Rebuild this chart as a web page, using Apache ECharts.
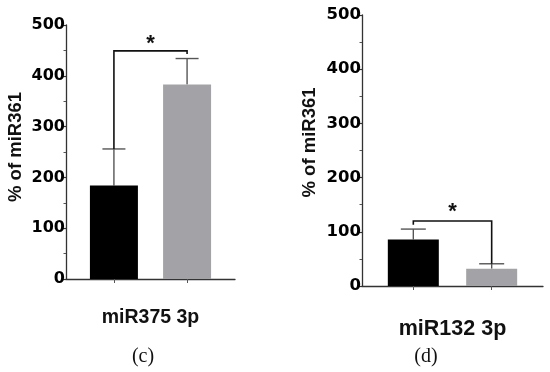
<!DOCTYPE html>
<html>
<head>
<meta charset="utf-8">
<script src="https://cdn.jsdelivr.net/npm/echarts@6/dist/echarts.min.js"></script>
<style>html,body{margin:0;padding:0;background:#fff;}#chart{width:550px;height:372px;}</style>
</head>
<body>
<div id="chart"></div>
<script>
// ---- data ----
const groups = ['Group 1', 'Group 2'];
const groupColors = ['#000000', '#a3a3a7'];
const yTicks = [0, 100, 200, 300, 400, 500];

// panel (c): miR375 3p
const cName = 'miR375 3p';
const cMeans = [184, 383];
const cErrUpper = [256, 434];
const cBracketY = 449;
const cBracketLegEnds = [256, 443];
const cStarY = 463;

// panel (d): miR132 3p
const dName = 'miR132 3p';
const dMeans = [86, 32];
const dErrUpper = [105, 41];
const dBracketY = 120;
const dBracketLegEnds = [113, 41];
const dStarY = 136;

const yName = '% of miR361';
const panelLabels = ['(c)', '(d)'];

// ---- chart ----
const FONT = 'Liberation Sans, Arial, sans-serif';
const TICKFONT = 'DejaVu Sans, Liberation Sans, sans-serif';
const chart = echarts.init(document.getElementById('chart'), null, {renderer: 'canvas'});

const pos = groups.map((g, i) => i + 1);
const xMin = 0.345, xMax = 2.655;

function makeXAxis(gridIndex, name, fontSize, gap) {
  return {
    type: 'value', gridIndex: gridIndex, min: xMin, max: xMax,
    name: name, nameLocation: 'middle', nameGap: gap,
    nameTextStyle: {fontFamily: FONT, fontWeight: 'bold', fontSize: fontSize, color: '#111', verticalAlign: 'top'},
    axisLine: {show: true, lineStyle: {color: '#333', width: 1.3}},
    axisTick: {show: true, customValues: pos, length: 4, lineStyle: {color: '#555', width: 1}},
    axisLabel: {show: false},
    splitLine: {show: false}
  };
}
function makeYAxis(gridIndex, fontSize, gap, shift) {
  return {
    type: 'value', gridIndex: gridIndex, min: 0, max: 500, interval: 100,
    name: yName, nameLocation: 'middle', nameGap: gap,
    nameTextStyle: {fontFamily: FONT, fontWeight: 'bold', fontSize: 18.5, color: '#111', padding: [0, 0, 0, shift]},
    axisLine: {show: true, lineStyle: {color: '#333', width: 1.3}},
    axisTick: {show: true, length: 4, lineStyle: {color: '#333', width: 1.2}},
    minorTick: {show: true, splitNumber: 2, length: 2.5, lineStyle: {color: '#555', width: 1}},
    axisLabel: {fontFamily: TICKFONT, fontWeight: 'bold', fontSize: fontSize, color: '#000', margin: 1,
      customValues: yTicks},
    splitLine: {show: false}
  };
}

function barSeries(idx, means, bw) {
  return {
    type: 'bar', xAxisIndex: idx, yAxisIndex: idx, barWidth: bw, z: 3,
    data: means.map((v, i) => ({value: [pos[i], v], itemStyle: {color: groupColors[i]}})),
    animation: false
  };
}
function errSeries(idx, means, upper, capW) {
  return {
    type: 'custom', xAxisIndex: idx, yAxisIndex: idx, z: 2,
    data: means.map((v, i) => [pos[i], v, upper[i]]),
    renderItem: function (params, api) {
      const base = api.coord([api.value(0), api.value(1)]);
      const top = api.coord([api.value(0), api.value(2)]);
      const st = {stroke: '#555', lineWidth: 1.4};
      return {type: 'group', children: [
        {type: 'line', shape: {x1: base[0], y1: base[1], x2: top[0], y2: top[1]}, style: st},
        {type: 'line', shape: {x1: top[0] - capW / 2, y1: top[1], x2: top[0] + capW / 2, y2: top[1]}, style: st}
      ]};
    },
    animation: false
  };
}
function bracketSeries(idx, yv, legs, starY, starSize) {
  return {
    type: 'custom', xAxisIndex: idx, yAxisIndex: idx, z: 4,
    data: [[pos[0], pos[1], yv, legs[0], legs[1], starY]],
    renderItem: function (params, api) {
      const a = api.coord([api.value(0), api.value(2)]);
      const b = api.coord([api.value(1), api.value(2)]);
      const la = api.coord([api.value(0), api.value(3)]);
      const lb = api.coord([api.value(1), api.value(4)]);
      const s = api.coord([(api.value(0) + api.value(1)) / 2, api.value(5)]);
      const st = {stroke: '#111', lineWidth: 1.6, fill: null};
      return {type: 'group', children: [
        {type: 'polyline', shape: {points: [[la[0], la[1]], [a[0], a[1]], [b[0], b[1]], [lb[0], lb[1]]]}, style: st},
        {type: 'text', x: s[0], y: s[1], style: {text: '*', fontFamily: FONT, fontWeight: 'bold', fontSize: starSize, fill: '#111', align: 'center', verticalAlign: 'middle'}}
      ]};
    },
    animation: false
  };
}

const titleStyle = {fontFamily: 'Liberation Serif, Times New Roman, serif', fontWeight: 'normal', fontSize: 20, color: '#111'};
const option = {
  backgroundColor: '#fff',
  animation: false,
  title: [
    {text: panelLabels[0], left: 143, top: 347, padding: 0, textAlign: 'center', textStyle: titleStyle},
    {text: panelLabels[1], left: 426, top: 347, padding: 0, textAlign: 'center', textStyle: titleStyle}
  ],
  grid: [
    {left: 66, right: 315, top: 25, bottom: 93, outerBoundsMode: 'none', containLabel: false},
    {left: 362, right: 7, top: 15, bottom: 86, outerBoundsMode: 'none', containLabel: false}
  ],
  xAxis: [makeXAxis(0, cName, 19.5, 29), makeXAxis(1, dName, 21.5, 32)],
  yAxis: [makeYAxis(0, 16, 41, 10), makeYAxis(1, 16.5, 43, 16)],
  series: [
    errSeries(0, cMeans, cErrUpper, 23),
    barSeries(0, cMeans, 48),
    bracketSeries(0, cBracketY, cBracketLegEnds, cStarY, 22),
    errSeries(1, dMeans, dErrUpper, 25),
    barSeries(1, dMeans, 51),
    bracketSeries(1, dBracketY, dBracketLegEnds, dStarY, 22)
  ]
};
chart.setOption(option);
</script>
</body>
</html>
